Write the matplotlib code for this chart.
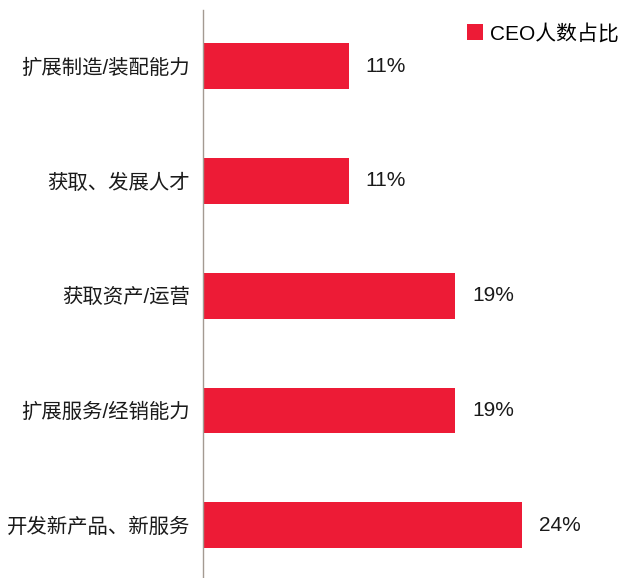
import matplotlib.pyplot as plt
from matplotlib.patches import Patch

plt.rcParams['font.family'] = ['Liberation Sans', 'Noto Sans CJK SC', 'DejaVu Sans']

# 类别从上到下
categories = ["扩展制造/装配能力", "获取、发展人才", "获取资产/运营",
              "扩展服务/经销能力", "开发新产品、新服务"]
shares = [11, 11, 19, 19, 24]
value_labels = ["11%", "11%", "19%", "19%", "24%"]

BAR_COLOR = "#ED1B36"
AXIS_COLOR = "#A49A92"

fig = plt.figure(figsize=(6.23, 5.78), dpi=100)
ax = fig.add_axes([202.5 / 623, 0, 420.5 / 623, 568 / 578])

ypos = list(range(len(categories)))
ax.barh(ypos, shares, height=0.4, color=BAR_COLOR, label="CEO人数占比")

for y, v, lab in zip(ypos, shares, value_labels):
    ax.annotate(lab, (v, y), xytext=(12, 0), textcoords="offset points",
                ha="left", va="center", fontsize=15, color="#1a1a1a")

ax.set_xlim(0, 31.6)
ax.set_ylim(4.46, -0.49)
ax.set_yticks(ypos)
ax.set_yticklabels(categories, fontsize=14.7, color="#1a1a1a")
ax.tick_params(axis="y", length=0, pad=9)
ax.set_xticks([])

for side in ("top", "right", "bottom"):
    ax.spines[side].set_visible(False)
ax.spines["left"].set_color(AXIS_COLOR)
ax.spines["left"].set_linewidth(1.0)

handles = [Patch(facecolor=BAR_COLOR, edgecolor="none")]
fig.legend(handles, ["CEO人数占比"], loc="upper right",
           bbox_to_anchor=(1.017, 0.985), frameon=False, fontsize=15,
           handlelength=0.75, handleheight=0.75, handletextpad=0.35,
           borderaxespad=0.3)

fig.savefig("out.png", dpi=100)
